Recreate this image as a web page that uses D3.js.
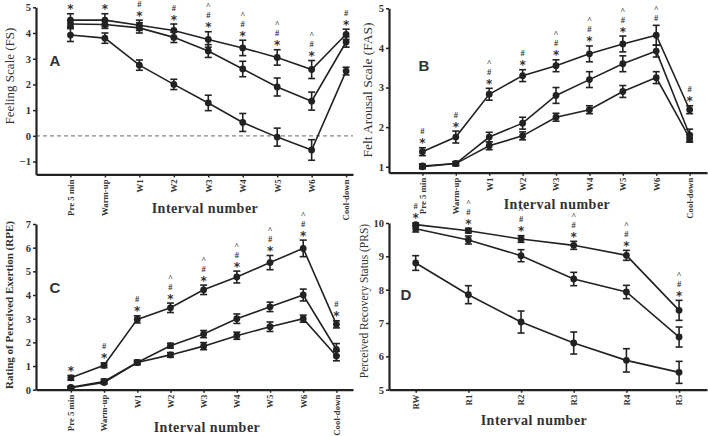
<!DOCTYPE html>
<html>
<head>
<meta charset="utf-8">
<script src="https://cdn.jsdelivr.net/npm/d3@7"></script>
<style>
  body { margin: 0; background: #fff; }
  svg { display: block; }
</style>
</head>
<body>
<svg id="chart"></svg>
<script>
// categories
const intervals = ['Pre 5 min', 'Warm-up', 'W1', 'W2', 'W3', 'W4', 'W5', 'W6', 'Cool-down'];
const recoveries = ['RW', 'R1', 'R2', 'R3', 'R4', 'R5'];

// A - Feeling Scale, three series (mean, error)
const fsTop = [4.5, 4.5, 4.3, 4.1, 3.75, 3.42, 3.05, 2.58, 3.95];
const fsTopErr = [0.25, 0.25, 0.2, 0.25, 0.3, 0.3, 0.3, 0.35, 0.2];
const fsMid = [4.35, 4.33, 4.2, 3.83, 3.3, 2.6, 1.9, 1.35, 3.65];
const fsMidErr = [0.15, 0.15, 0.2, 0.2, 0.25, 0.3, 0.35, 0.35, 0.2];
const fsLow = [3.92, 3.8, 2.75, 2.0, 1.28, 0.52, -0.05, -0.55, 2.52];
const fsLowErr = [0.25, 0.2, 0.2, 0.2, 0.3, 0.35, 0.35, 0.4, 0.15];
const fsMarks = ['*', '*', '#*', '#*', '^#*', '^#*', '^#*', '^#*', '#*'];

// B - Felt Arousal Scale
const fasTop = [1.38, 1.75, 2.83, 3.3, 3.55, 3.85, 4.1, 4.32, 2.44];
const fasTopErr = [0.1, 0.15, 0.15, 0.15, 0.15, 0.2, 0.2, 0.25, 0.1];
const fasMid = [1.02, 1.08, 1.75, 2.1, 2.8, 3.2, 3.6, 3.92, 1.8];
const fasMidErr = [0.05, 0.05, 0.12, 0.15, 0.2, 0.2, 0.2, 0.15, 0.15];
const fasLow = [1.0, 1.08, 1.53, 1.78, 2.25, 2.44, 2.9, 3.25, 1.72];
const fasLowErr = [0.05, 0.05, 0.1, 0.1, 0.1, 0.1, 0.15, 0.15, 0.1];
const fasMarks = ['#*', '#*', '^#*', '#*', '^#*', '^#*', '^#*', '^#', '#*'];

// C - Rating of Perceived Exertion
const rpeTop = [0.5, 1.03, 2.97, 3.46, 4.22, 4.76, 5.37, 5.97, 2.76];
const rpeTopErr = [0.1, 0.1, 0.15, 0.2, 0.2, 0.25, 0.3, 0.35, 0.15];
const rpeMid = [0.1, 0.35, 1.15, 1.86, 2.35, 3.0, 3.5, 4.0, 1.7];
const rpeMidErr = [0.05, 0.1, 0.1, 0.1, 0.15, 0.2, 0.2, 0.25, 0.25];
const rpeLow = [0.08, 0.3, 1.15, 1.47, 1.84, 2.28, 2.66, 3.0, 1.42];
const rpeLowErr = [0.05, 0.05, 0.05, 0.1, 0.15, 0.15, 0.2, 0.15, 0.2];
const rpeMarks = ['*', '#*', '#*', '^#*', '^#*', '^#*', '^#*', '^#*', '#*'];

// D - Perceived Recovery Status
const prsTop = [9.95, 9.77, 9.52, 9.33, 9.03, 7.38];
const prsTopErr = [0.05, 0.07, 0.1, 0.12, 0.15, 0.3];
const prsMid = [9.83, 9.49, 9.02, 8.32, 7.93, 6.58];
const prsMidErr = [0.1, 0.12, 0.18, 0.2, 0.2, 0.3];
const prsLow = [8.8, 7.85, 7.03, 6.4, 5.88, 5.52];
const prsLowErr = [0.22, 0.27, 0.33, 0.33, 0.35, 0.33];
const prsMarks = ['#*', '^#*', '^#*', '^#*', '^#*', '^#*'];

const ink = '#222';
const serif = '"Liberation Serif", "Times New Roman", serif';

let svg = d3.select('#chart')
  .attr('width', 708)
  .attr('height', 436);

svg.append('rect').attr('width', 708).attr('height', 436).attr('fill', '#fff');

let panels = [
  {
    letter: 'A', cats: intervals,
    series: [[fsTop, fsTopErr], [fsMid, fsMidErr], [fsLow, fsLowErr]], marks: fsMarks,
    xDomain: [-1, 8.2], xRange: [36, 353],
    yDomain: [-1.5, 5], yRange: [174.4, 7.3], yTicks: [-1, 0, 1, 2, 3, 4, 5],
    yLabel: 'Feeling Scale (FS)', yLabelPos: [9, 76], yLabelSize: 13, yLabelWeight: 'normal',
    xLabelPos: [205, 213], letterPos: [55, 66], zeroLine: true
  },
  {
    letter: 'B', cats: intervals,
    series: [[fasTop, fasTopErr], [fasMid, fasMidErr], [fasLow, fasLowErr]], marks: fasMarks,
    xDomain: [-1, 8.52], xRange: [389, 707],
    yDomain: [0.85, 5], yRange: [172.7, 8.3], yTicks: [1, 2, 3, 4, 5],
    yLabel: 'Felt Arousal Scale (FAS)', yLabelPos: [367, 90], yLabelSize: 13.5, yLabelWeight: 'normal',
    xLabelPos: [557, 209], letterPos: [424, 71]
  },
  {
    letter: 'C', cats: intervals,
    series: [[rpeTop, rpeTopErr], [rpeMid, rpeMidErr], [rpeLow, rpeLowErr]], marks: rpeMarks,
    xDomain: [-1.05, 8.5], xRange: [36, 353],
    yDomain: [0, 7], yRange: [389.7, 224], yTicks: [0, 1, 2, 3, 4, 5, 6, 7],
    yLabel: 'Rating of Perceived Exertion (RPE)', yLabelPos: [9, 305], yLabelSize: 11, yLabelWeight: 'bold',
    xLabelPos: [207, 432], letterPos: [55, 293]
  },
  {
    letter: 'D', cats: recoveries,
    series: [[prsTop, prsTopErr], [prsMid, prsMidErr], [prsLow, prsLowErr]], marks: prsMarks,
    xDomain: [-0.507, 5.53], xRange: [389, 707],
    yDomain: [5, 10], yRange: [389.7, 223], yTicks: [5, 6, 7, 8, 9, 10],
    yLabel: 'Perceived Recovery Status (PRS)', yLabelPos: [364, 301], yLabelSize: 11.5, yLabelWeight: 'normal',
    xLabelPos: [534, 425], letterPos: [406, 300]
  }
];

panels.forEach(p => {
  let g = svg.append('g').attr('class', `panel panel-${p.letter}`);

  let x = d3.scaleLinear().domain(p.xDomain).range(p.xRange);
  let y = d3.scaleLinear().domain(p.yDomain).range(p.yRange);

  // dashed zero line (panel A)
  if (p.zeroLine) {
    g.append('line')
      .attr('x1', p.xRange[0]).attr('x2', p.xRange[1])
      .attr('y1', y(0)).attr('y2', y(0))
      .attr('stroke', '#888')
      .attr('stroke-width', 1.2)
      .attr('stroke-dasharray', '4,3');
  }

  // y axis
  let yAxis = g.append('g')
    .attr('transform', `translate(${p.xRange[0]},0)`)
    .call(d3.axisLeft(y).tickValues(p.yTicks).tickFormat(d3.format('d'))
      .tickSize(3).tickSizeOuter(0).tickPadding(2));
  // x axis
  let xAxis = g.append('g')
    .attr('transform', `translate(0,${p.yRange[0]})`)
    .call(d3.axisBottom(x)
      .tickValues(d3.range(p.cats.length))
      .tickFormat(i => p.cats[i])
      .tickSize(3).tickSizeOuter(0));

  [yAxis, xAxis].forEach(a => {
    a.select('.domain').attr('stroke', ink).attr('stroke-width', 2.2);
    a.selectAll('.tick line').attr('stroke', ink).attr('stroke-width', 1.5);
    a.selectAll('text')
      .attr('fill', '#333')
      .style('font-family', serif)
      .style('font-weight', 'bold')
      .style('font-size', '10.5px');
  });

  xAxis.selectAll('text')
    .attr('transform', 'rotate(-90)')
    .attr('x', -5)
    .attr('y', 0)
    .attr('dy', '0.32em')
    .style('font-size', '8.8px')
    .style('text-anchor', 'end');

  // axis titles
  g.append('text')
    .attr('transform', `translate(${p.yLabelPos[0]},${p.yLabelPos[1]}) rotate(-90)`)
    .attr('text-anchor', 'middle')
    .attr('dominant-baseline', 'central')
    .attr('fill', '#333')
    .style('font-family', serif)
    .style('font-weight', p.yLabelWeight)
    .style('font-size', `${p.yLabelSize}px`)
    .text(p.yLabel);

  g.append('text')
    .attr('x', p.xLabelPos[0])
    .attr('y', p.xLabelPos[1])
    .attr('text-anchor', 'middle')
    .attr('fill', '#333')
    .style('font-family', serif)
    .style('font-weight', 'bold')
    .style('font-size', '14px')
    .style('letter-spacing', '0.5px')
    .text('Interval number');

  g.append('text')
    .attr('x', p.letterPos[0])
    .attr('y', p.letterPos[1])
    .attr('text-anchor', 'middle')
    .attr('fill', '#333')
    .style('font-family', 'Arial, "Liberation Sans", sans-serif')
    .style('font-weight', 'bold')
    .style('font-size', '15px')
    .text(p.letter);

  // series: lines, error bars, markers
  p.series.forEach(([means, errs]) => {
    let pts = means.map((m, i) => ({ i: i, m: m, e: errs[i] }));

    g.append('path')
      .datum(pts)
      .attr('fill', 'none')
      .attr('stroke', ink)
      .attr('stroke-width', 1.6)
      .attr('d', d3.line().x(d => x(d.i)).y(d => y(d.m)));

    let eb = g.selectAll(null)
      .data(pts)
      .enter()
      .append('g')
      .attr('stroke', ink)
      .attr('stroke-width', 1.6);
    eb.append('line')
      .attr('x1', d => x(d.i)).attr('x2', d => x(d.i))
      .attr('y1', d => y(d.m - d.e)).attr('y2', d => y(d.m + d.e));
    eb.append('line')
      .attr('x1', d => x(d.i) - 3.5).attr('x2', d => x(d.i) + 3.5)
      .attr('y1', d => y(d.m + d.e)).attr('y2', d => y(d.m + d.e));
    eb.append('line')
      .attr('x1', d => x(d.i) - 3.5).attr('x2', d => x(d.i) + 3.5)
      .attr('y1', d => y(d.m - d.e)).attr('y2', d => y(d.m - d.e));

    g.selectAll(null)
      .data(pts)
      .enter()
      .append('circle')
      .attr('cx', d => x(d.i))
      .attr('cy', d => y(d.m))
      .attr('r', 3.4)
      .attr('fill', ink);
  });

  // significance symbols stacked above the highest error bar
  p.marks.forEach((mk, i) => {
    let top = d3.min(p.series, s => y(s[0][i] + s[1][i]));
    let syms = mk.split('').reverse(); // bottom first
    syms.forEach((s, k) => {
      let cy = top - 7.5 - k * 9;
      let star = s === '*';
      // tiny rotation keeps the glyphs grey-scale antialiased
      g.append('text')
        .attr('transform', `translate(${x(i)},${star ? cy + 7 : cy + 3}) rotate(0.01)`)
        .attr('text-anchor', 'middle')
        .attr('fill', '#333')
        .style('font-family', star ? '"DejaVu Sans", sans-serif' : serif)
        .style('font-weight', 'bold')
        .style('font-size', star ? '12px' : '8.5px')
        .text(s);
    });
  });
});
</script>
</body>
</html>
